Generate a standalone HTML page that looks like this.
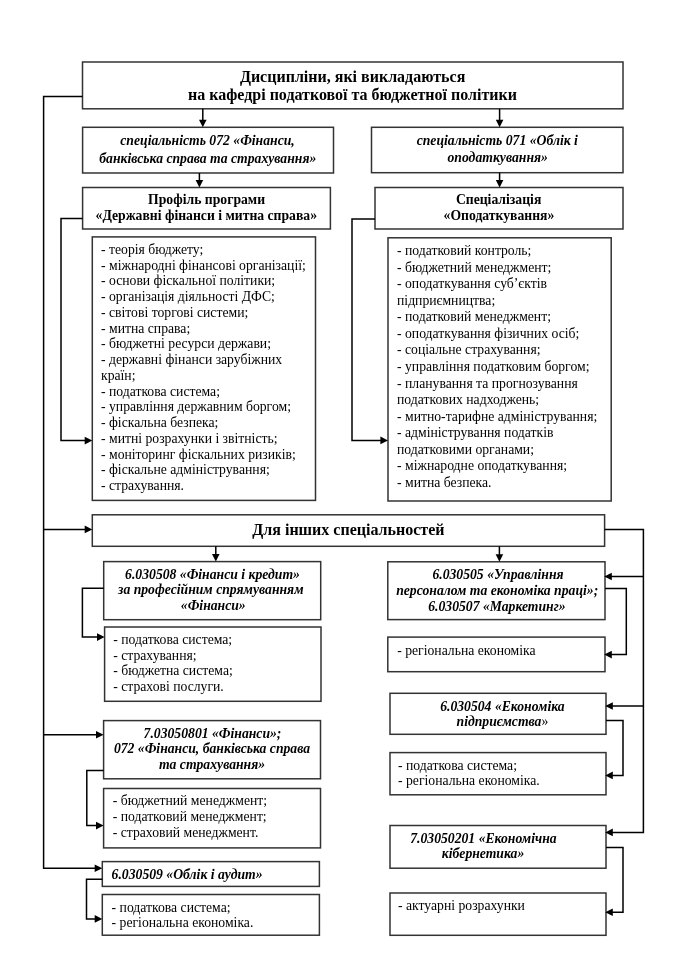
<!DOCTYPE html><html><head><meta charset="utf-8"><style>html,body{margin:0;padding:0;background:#fff;width:680px;height:962px;overflow:hidden}svg{display:block;will-change:transform}text{font-family:"Liberation Serif",serif;fill:#000}</style></head><body>
<svg width="680" height="962" viewBox="0 0 680 962">
<g fill="none" stroke="#333" stroke-width="1.5">
<rect x="82.5" y="62" width="540.50" height="46.80"/>
<rect x="82.6" y="127.3" width="250.90" height="45.70"/>
<rect x="371.5" y="127.3" width="251.50" height="45.40"/>
<rect x="82.6" y="187.5" width="247.80" height="41.50"/>
<rect x="375" y="187.5" width="248.00" height="41.50"/>
<rect x="92.3" y="236.9" width="223.20" height="263.50"/>
<rect x="388" y="237.8" width="223.20" height="263.20"/>
<rect x="92.3" y="514.8" width="512.30" height="31.50"/>
<rect x="103.7" y="561.6" width="217.00" height="58.10"/>
<rect x="104.6" y="627" width="216.40" height="74.30"/>
<rect x="103.6" y="720.6" width="216.90" height="58.20"/>
<rect x="103.6" y="788.5" width="216.90" height="59.40"/>
<rect x="102.3" y="861.6" width="217.10" height="24.80"/>
<rect x="102.3" y="894.5" width="217.10" height="40.70"/>
<rect x="387.8" y="561.8" width="217.20" height="57.80"/>
<rect x="387.8" y="637.1" width="217.20" height="34.60"/>
<rect x="390" y="693.3" width="216.00" height="41.00"/>
<rect x="390" y="752.6" width="216.00" height="42.20"/>
<rect x="390" y="825.5" width="216.00" height="42.70"/>
<rect x="390" y="893" width="216.00" height="42.30"/>
</g>
<g fill="none" stroke="#000" stroke-width="1.5">
<polyline points="82.5,96.5 43.6,96.5 43.6,868.2 96,868.2"/>
<polyline points="43.6,529.4 86,529.4"/>
<polyline points="43.6,734.8 97,734.8"/>
<polyline points="202.8,108.8 202.8,121"/>
<polyline points="499.6,108.8 499.6,121"/>
<polyline points="199.4,173 199.4,181"/>
<polyline points="499.6,172.7 499.6,181"/>
<polyline points="82.6,218.4 61,218.4 61,440.6 86,440.6"/>
<polyline points="375,219 352,219 352,440.4 382,440.4"/>
<polyline points="215.8,546.3 215.8,555"/>
<polyline points="499.4,546.3 499.4,555"/>
<polyline points="604.6,529.4 643.4,529.4 643.4,832.4 612,832.4"/>
<polyline points="643.4,576.5 611,576.5"/>
<polyline points="643.4,706 612,706"/>
<polyline points="605,588.5 626.3,588.5 626.3,654.6 611,654.6"/>
<polyline points="606,720.5 623,720.5 623,775.4 612,775.4"/>
<polyline points="606,847.6 623,847.6 623,912.2 612,912.2"/>
<polyline points="103.7,588.2 82.4,588.2 82.4,637.1 98,637.1"/>
<polyline points="103.6,770.6 86.8,770.6 86.8,825.6 97,825.6"/>
<polyline points="102.3,879.2 86.5,879.2 86.5,918.9 96,918.9"/>
</g>
<g fill="#000" stroke="none">
<polygon points="102.30,868.20 94.70,864.40 94.70,872.00"/>
<polygon points="92.30,529.40 84.70,525.60 84.70,533.20"/>
<polygon points="103.60,734.80 96.00,731.00 96.00,738.60"/>
<polygon points="202.80,127.30 199.00,119.70 206.60,119.70"/>
<polygon points="499.60,127.30 495.80,119.70 503.40,119.70"/>
<polygon points="199.40,187.50 195.60,179.90 203.20,179.90"/>
<polygon points="499.60,187.50 495.80,179.90 503.40,179.90"/>
<polygon points="92.30,440.60 84.70,436.80 84.70,444.40"/>
<polygon points="388.00,440.40 380.40,436.60 380.40,444.20"/>
<polygon points="215.80,561.60 212.00,554.00 219.60,554.00"/>
<polygon points="499.40,561.80 495.60,554.20 503.20,554.20"/>
<polygon points="605.20,832.40 612.80,828.60 612.80,836.20"/>
<polygon points="604.20,576.50 611.80,572.70 611.80,580.30"/>
<polygon points="605.20,706.00 612.80,702.20 612.80,709.80"/>
<polygon points="604.20,654.60 611.80,650.80 611.80,658.40"/>
<polygon points="605.20,775.40 612.80,771.60 612.80,779.20"/>
<polygon points="605.20,912.20 612.80,908.40 612.80,916.00"/>
<polygon points="104.60,637.10 97.00,633.30 97.00,640.90"/>
<polygon points="103.60,825.60 96.00,821.80 96.00,829.40"/>
<polygon points="102.30,918.90 94.70,915.10 94.70,922.70"/>
</g>
<text x="352.6" y="82" text-anchor="middle" font-size="16" font-weight="bold">Дисципліни, які викладаються</text>
<text x="352.5" y="100.2" text-anchor="middle" font-size="16" font-weight="bold">на кафедрі податкової та бюджетної політики</text>
<text x="207.5" y="144.9" text-anchor="middle" font-size="13.7" font-weight="bold" font-style="italic">спеціальність 072 «Фінанси,</text>
<text x="207.8" y="162.7" text-anchor="middle" font-size="13.7" font-weight="bold" font-style="italic">банківська справа та страхування»</text>
<text x="206.6" y="204.4" text-anchor="middle" font-size="13.7" font-weight="bold">Профіль програми</text>
<text x="206.3" y="219.7" text-anchor="middle" font-size="13.7" font-weight="bold">«Державні фінанси і митна справа»</text>
<text x="497.3" y="144.9" text-anchor="middle" font-size="13.7" font-weight="bold" font-style="italic">спеціальність 071 «Облік і</text>
<text x="497.7" y="162.2" text-anchor="middle" font-size="13.7" font-weight="bold" font-style="italic">оподаткування»</text>
<text x="498.6" y="204.4" text-anchor="middle" font-size="13.7" font-weight="bold">Спеціалізація</text>
<text x="499" y="219.7" text-anchor="middle" font-size="13.7" font-weight="bold">«Оподаткування»</text>
<text x="348.4" y="535.3" text-anchor="middle" font-size="16" font-weight="bold">Для інших спеціальностей</text>
<text x="212.5" y="578.6" text-anchor="middle" font-size="13.7" font-weight="bold" font-style="italic">6.030508 «Фінанси і кредит»</text>
<text x="210.8" y="594.4" text-anchor="middle" font-size="13.7" font-weight="bold" font-style="italic">за професійним спрямуванням</text>
<text x="213.3" y="610.3" text-anchor="middle" font-size="13.7" font-weight="bold" font-style="italic">«Фінанси»</text>
<text x="498" y="578.8" text-anchor="middle" font-size="13.7" font-weight="bold" font-style="italic">6.030505 «Управління</text>
<text x="497.2" y="594.7" text-anchor="middle" font-size="13.7" font-weight="bold" font-style="italic">персоналом та економіка праці»;</text>
<text x="496.9" y="610.5" text-anchor="middle" font-size="13.7" font-weight="bold" font-style="italic">6.030507 «Маркетинг»</text>
<text x="502.4" y="710.5" text-anchor="middle" font-size="13.7" font-weight="bold" font-style="italic">6.030504 «Економіка</text>
<text x="502.4" y="726" text-anchor="middle" font-size="13.7" font-weight="bold" font-style="italic">підприємства<tspan font-weight="normal" font-style="normal">»</tspan></text>
<text x="483.4" y="842.5" text-anchor="middle" font-size="13.7" font-weight="bold" font-style="italic">7.03050201 «Економічна</text>
<text x="483" y="858" text-anchor="middle" font-size="13.7" font-weight="bold" font-style="italic">кібернетика»</text>
<text x="212.5" y="737.6" text-anchor="middle" font-size="13.7" font-weight="bold" font-style="italic">7.03050801 «Фінанси»;</text>
<text x="212.0" y="753.1" text-anchor="middle" font-size="13.7" font-weight="bold" font-style="italic">072 «Фінанси, банківська справа</text>
<text x="212.0" y="769" text-anchor="middle" font-size="13.7" font-weight="bold" font-style="italic">та страхування»</text>
<text x="111.6" y="878.7" text-anchor="start" font-size="13.7" font-weight="bold" font-style="italic">6.030509 «Облік і аудит»</text>
<text x="101.0" y="253.80" font-size="13.7">- теорія бюджету;</text>
<text x="101.0" y="269.55" font-size="13.7">- міжнародні фінансові організації;</text>
<text x="101.0" y="285.30" font-size="13.7">- основи фіскальної політики;</text>
<text x="101.0" y="301.05" font-size="13.7">- організація діяльності ДФС;</text>
<text x="101.0" y="316.80" font-size="13.7">- світові торгові системи;</text>
<text x="101.0" y="332.55" font-size="13.7">- митна справа;</text>
<text x="101.0" y="348.30" font-size="13.7">- бюджетні ресурси держави;</text>
<text x="101.0" y="364.05" font-size="13.7">- державні фінанси зарубіжних</text>
<text x="101.0" y="379.80" font-size="13.7">країн;</text>
<text x="101.0" y="395.55" font-size="13.7">- податкова система;</text>
<text x="101.0" y="411.30" font-size="13.7">- управління державним боргом;</text>
<text x="101.0" y="427.05" font-size="13.7">- фіскальна безпека;</text>
<text x="101.0" y="442.80" font-size="13.7">- митні розрахунки і звітність;</text>
<text x="101.0" y="458.55" font-size="13.7">- моніторинг фіскальних ризиків;</text>
<text x="101.0" y="474.30" font-size="13.7">- фіскальне адміністрування;</text>
<text x="101.0" y="490.05" font-size="13.7">- страхування.</text>
<text x="397.0" y="255.00" font-size="13.7">- податковий контроль;</text>
<text x="397.0" y="271.57" font-size="13.7">- бюджетний менеджмент;</text>
<text x="397.0" y="288.14" font-size="13.7">- оподаткування суб’єктів</text>
<text x="397.0" y="304.71" font-size="13.7">підприємництва;</text>
<text x="397.0" y="321.28" font-size="13.7">- податковий менеджмент;</text>
<text x="397.0" y="337.85" font-size="13.7">- оподаткування фізичних осіб;</text>
<text x="397.0" y="354.42" font-size="13.7">- соціальне страхування;</text>
<text x="397.0" y="370.99" font-size="13.7">- управління податковим боргом;</text>
<text x="397.0" y="387.56" font-size="13.7">- планування та прогнозування</text>
<text x="397.0" y="404.13" font-size="13.7">податкових надходжень;</text>
<text x="397.0" y="420.70" font-size="13.7">- митно-тарифне адміністрування;</text>
<text x="397.0" y="437.27" font-size="13.7">- адміністрування податків</text>
<text x="397.0" y="453.84" font-size="13.7">податковими органами;</text>
<text x="397.0" y="470.41" font-size="13.7">- міжнародне оподаткування;</text>
<text x="397.0" y="486.98" font-size="13.7">- митна безпека.</text>
<text x="113.2" y="644.10" font-size="13.7">- податкова система;</text>
<text x="113.2" y="659.65" font-size="13.7">- страхування;</text>
<text x="113.2" y="675.20" font-size="13.7">- бюджетна система;</text>
<text x="113.2" y="690.75" font-size="13.7">- страхові послуги.</text>
<text x="112.7" y="805.30" font-size="13.7">- бюджетний менеджмент;</text>
<text x="112.7" y="820.90" font-size="13.7">- податковий менеджмент;</text>
<text x="112.7" y="836.50" font-size="13.7">- страховий менеджмент.</text>
<text x="111.6" y="911.70" font-size="13.7">- податкова система;</text>
<text x="111.6" y="927.10" font-size="13.7">- регіональна економіка.</text>
<text x="397.2" y="654.50" font-size="13.7">- регіональна економіка</text>
<text x="398.0" y="769.90" font-size="13.7">- податкова система;</text>
<text x="398.0" y="785.40" font-size="13.7">- регіональна економіка.</text>
<text x="398.0" y="909.80" font-size="13.7">- актуарні розрахунки</text>
</svg></body></html>
